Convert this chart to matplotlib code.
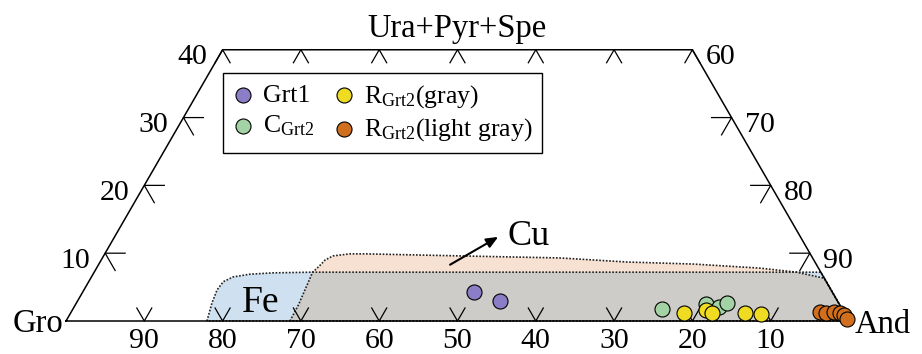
import numpy as np
import matplotlib
matplotlib.use('Agg')
import matplotlib.pyplot as plt
from matplotlib.patches import Polygon

plt.rcParams['font.family'] = ['Liberation Serif', 'DejaVu Serif']
plt.rcParams['mathtext.fontset'] = 'custom'
plt.rcParams['mathtext.rm'] = 'Liberation Serif'
plt.rcParams['mathtext.it'] = 'Liberation Serif:italic'

# garnet compositions in %: And and Ura+Pyr+Spe (Gro is the rest)
grt1_and = [50.0, 54.0]
grt1_top = [4.3, 2.9]
c_grt2_and = [75.2, 80.5, 82.4, 83.1]
c_grt2_top = [1.8, 2.5, 2.1, 2.7]
r_gray_and = [78.3, 81.0, 81.9, 86.1, 88.2]
r_gray_top = [1.2, 1.6, 1.2, 1.2, 1.0]
r_light_and = [95.6, 96.5, 97.4, 98.3, 98.9, 99.6]
r_light_top = [1.3, 1.2, 1.3, 1.2, 0.9, 0.3]

# skarn fields (And, Ura+Pyr+Spe)
fe_and = [18.0, 17.3, 17.0, 17.2, 18.1, 20.0, 22.9, 27.9, 92.8, 100.0]
fe_top = [0.0, 2.7, 4.6, 5.8, 6.5, 6.9, 7.1, 7.2, 7.2, 0.0]
cu_and = [28.6, 28.5, 27.9, 28.3, 28.6, 29.3, 31.3, 33.5, 45.5, 58.4,
          67.3, 75.9, 84.7, 89.7, 93.7, 100.0]
cu_top = [0.0, 2.4, 7.2, 8.1, 9.0, 9.6, 9.9, 9.9, 9.6, 9.3,
          8.7, 8.4, 7.8, 7.2, 6.3, 0.0]

gro_ticks = [90, 80, 70, 60, 50, 40, 30, 20, 10]
top_ticks = [10, 20, 30, 40]
and_ticks = [90, 80, 70, 60]
top_max = 40

PX = 1 / 783.0  # one pixel in data units


def tern(a, t):
    a = np.asarray(a, dtype=float) / 100
    t = np.asarray(t, dtype=float) / 100
    return a + t / 2, t * np.sqrt(3) / 2


fig = plt.figure(figsize=(9.22, 3.54), dpi=100)
ax = fig.add_axes([0, 0, 1, 1])
ax.set_xlim(-66 * PX, 856 * PX)
ax.set_ylim(-33 * PX, 321 * PX)
ax.axis('off')

# fields
fe_xy = np.column_stack(tern(fe_and, fe_top))
cu_xy = np.column_stack(tern(cu_and, cu_top))
fe_patch = Polygon(fe_xy, closed=True, facecolor='#cfe1f0', edgecolor='none', zorder=1)
ax.add_patch(fe_patch)
ax.add_patch(Polygon(cu_xy, closed=True, facecolor='#f6e1d3', edgecolor='none', zorder=1))
overlap = Polygon(cu_xy, closed=True, facecolor='#cdccc8', edgecolor='none', zorder=1.5)
ax.add_patch(overlap)
overlap.set_clip_path(fe_patch)
for xy in (fe_xy, cu_xy):
    ax.add_patch(Polygon(xy, closed=True, fill=False, edgecolor='#222222',
                         linestyle=(0, (1, 1)), linewidth=1.2, zorder=2))

# frame of the truncated triangle
fx, fy = tern([0, 100, 100 - top_max, 0, 0], [0, 0, top_max, top_max, 0])
ax.plot(fx, fy, color='black', linewidth=1.1, zorder=3)

s30, c30 = 0.5, np.sqrt(3) / 2
short, long_ = 15 * PX, 20 * PX
tick_kw = dict(color='black', linewidth=0.9, zorder=3)
for g in gro_ticks:
    x, y = tern(100 - g, 0)
    ax.plot([x - short * s30, x, x + short * s30], [y + short * c30, y, y + short * c30], **tick_kw)
    ax.text(x, y - 26.5 * PX, str(g), ha='center', va='baseline', fontsize=21.5)
for a in range(0, 100 - top_max + 1, 10):
    x, y = tern(a, top_max)
    ax.plot([x - short * s30, x, x + short * s30], [y - short * c30, y, y - short * c30], **tick_kw)
for t in top_ticks:
    x, y = tern(0, t)
    if t < top_max:
        ax.plot([x + long_, x, x + long_ * s30], [y, y, y - long_ * c30], **tick_kw)
    ax.text(x - 15 * PX, y - 14.5 * PX, str(t), ha='right', va='baseline', fontsize=21.5)
for a in and_ticks:
    x, y = tern(a, 100 - a)
    if 100 - a < top_max:
        ax.plot([x - long_, x, x - long_ * s30], [y, y, y - long_ * c30], **tick_kw)
    ax.text(x + 13 * PX, y - 14.5 * PX, str(a), ha='left', va='baseline', fontsize=21.5)

# apex labels
x, y = tern(0, 0)
ax.text(x - 3 * PX, y - 11 * PX, 'Gro', ha='right', va='baseline', fontsize=23.5)
x, y = tern(100, 0)
ax.text(x + 6 * PX, y - 12 * PX, 'And', ha='left', va='baseline', fontsize=23.5)
x, y = tern(30, top_max)
ax.text(x, y + 13 * PX, 'Ura+Pyr+Spe', ha='center', va='baseline', fontsize=23.5)

# field labels
x, y = tern(24.2, 1.3)
ax.text(x, y, 'Fe', ha='center', va='baseline', fontsize=27, zorder=3)
x, y = tern(53.5, 11.2)
ax.text(x, y, 'Cu', ha='center', va='baseline', fontsize=26, zorder=3)
ax.annotate('', xy=tern(49.0, 12.4), xytext=tern(44.9, 8.3),
            arrowprops=dict(arrowstyle='-|>,head_length=0.7,head_width=0.3',
                            color='black', linewidth=1.5, shrinkA=0, shrinkB=0), zorder=3)

# samples
pt_kw = dict(s=117, edgecolors='black', linewidths=0.8, zorder=4)
ax.scatter(*tern(grt1_and, grt1_top), color='#8c7ec6', label='Grt1', **pt_kw)
ax.scatter(*tern(c_grt2_and, c_grt2_top), color='#a3d2a4', label=r'C$_{\mathrm{Grt2}}$', **pt_kw)
ax.scatter(*tern(r_gray_and, r_gray_top), color='#eedb22', label=r'R$_{\mathrm{Grt2}}$(gray)', **pt_kw)
ax.scatter(*tern(r_light_and, r_light_top), color='#d0701e', label=r'R$_{\mathrm{Grt2}}$(light gray)', **pt_kw)

leg = ax.legend(ncol=2, loc='upper left', bbox_to_anchor=(223 / 922, 1 - 73 / 354),
                bbox_transform=fig.transFigure, fontsize=18.5, frameon=True,
                fancybox=False, edgecolor='black', framealpha=1, borderaxespad=0,
                handlelength=0.8, handletextpad=0.38, borderpad=0.38,
                columnspacing=0.75, labelspacing=0.25, scatterpoints=1)
leg.get_frame().set_linewidth(1.0)

fig.savefig('out.png', dpi=100)
